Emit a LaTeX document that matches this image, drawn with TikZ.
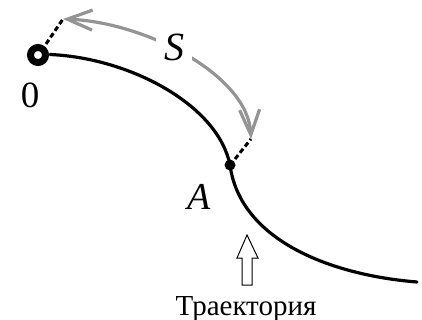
\documentclass[tikz,border=0pt]{standalone}
\usepackage{fontspec}
\setmainfont{Liberation Serif}
\usetikzlibrary{arrows.meta}
\begin{document}
\begin{tikzpicture}[x=1pt,y=-1pt,
  traj/.style={line width=3.2pt,line cap=round},
  dashln/.style={line width=3pt,dash pattern=on 5pt off 3pt},
  grayarc/.style={draw=black!42,line width=3.2pt,
    {Straight Barb[length=25pt,width=20pt]}-{Straight Barb[length=25pt,width=20pt]}},
  lbl/.style={inner sep=0pt}]
\useasboundingbox (0,0) rectangle (422,320);
% points
\coordinate (O) at (38,55);
\coordinate (A) at (230,165);
\coordinate (E) at (417,282);
\coordinate (Ot) at (63,19);
\coordinate (At) at (251,139);
% trajectory
\draw[traj] (O) ++(12,-0.5) .. controls (130,58) and (218,105) .. (A)
  .. controls (240,240) and (330,275) .. (E);
% dashed
\draw[dashln] (46,44) -- (Ot);
\draw[dashln] (235,159) -- (At);
% gray arc
\draw[grayarc] (Ot) .. controls (145,22) and (248,75) .. (At);
% S label
\node[lbl,fill=white,inner xsep=8pt,inner ysep=2pt,font=\fontsize{40}{44}\selectfont\itshape] (S) at (174,47) {S};
% origin ring
\draw[line width=7pt] (O) circle (7.5pt);
\fill (A) circle (5.5pt);
% labels
\node[lbl,font=\fontsize{37}{40}\selectfont] (zero) at (30,95) {0};
\node[lbl,font=\fontsize{38}{42}\selectfont\itshape] (Alab) at (199,197) {A};
\node[lbl,font=\fontsize{29}{32}\selectfont,anchor=base] (T) at (246,315) {Траектория};
% hollow arrow
\draw[line width=1pt,fill=white] (247,235) -- (258,258) -- (252,258) -- (252,285)
  -- (242,285) -- (242,258) -- (237,258) -- cycle;
\end{tikzpicture}
\end{document}
